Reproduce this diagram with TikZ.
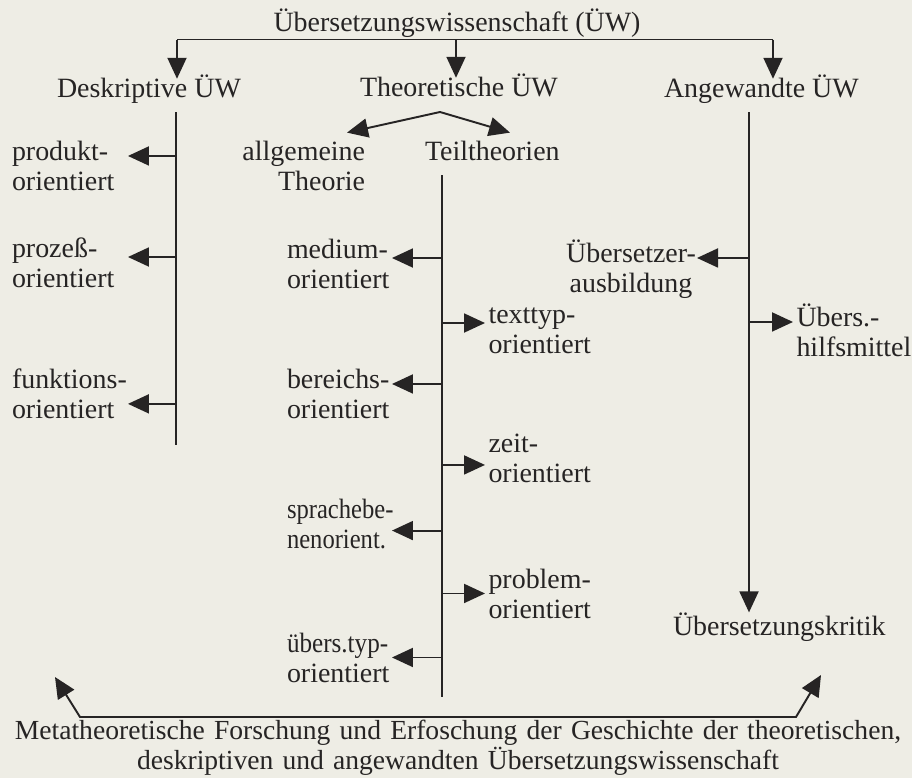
\documentclass[tikz,border=0pt]{standalone}
\usepackage{fontspec}
\setmainfont{Liberation Serif}
\usepackage{graphicx}
\usepackage{xcolor}
\usetikzlibrary{arrows.meta}
\definecolor{papier}{RGB}{238,237,229}
\definecolor{tinte}{RGB}{38,36,36}
\setlength{\lineskiplimit}{-50pt}
\newcommand{\eng}[2][0.88]{\scalebox{#1}[1]{#2}}

\begin{document}
\begin{tikzpicture}[x=0.02cm, y=-0.02cm, line width=1.1pt, color=tinte,
  >={Triangle[length=0.42cm, width=0.38cm]},
  every node/.style={inner sep=0pt, outer sep=0pt, font=\fontsize{15.9}{17.1}\selectfont},
  links/.style={anchor=base west, align=left, text width=2.32cm},
  mitte/.style={anchor=base west, align=left, text width=2.1cm},
  rechts/.style={anchor=base west, align=left, text width=2.3cm, outer xsep=2pt}]
\fill[papier] (0,0) rectangle (912,778);
\useasboundingbox (0,0) rectangle (912,778);

\node (titel) [anchor=base] at (457,31) {Übersetzungswissenschaft (ÜW)};
\node (desk) [anchor=base west] at (57,97) {Deskriptive ÜW};
\node (theo) [anchor=base west] at (360,96) {Theoretische ÜW};
\node (angew) [anchor=base west] at (664,97) {Angewandte ÜW};

\node (allg) [anchor=base east, align=right, text width=2.5cm] at (365,160) {allgemeine\\Theorie};
\node (teil) [anchor=base west] at (425,160) {Teiltheorien};

\node (prod) [links] at (12,160) {produkt-\\orientiert};
\node (proz) [links] at (12,257) {prozeß-\\orientiert};
\node (funk) [links] at (12,388) {funktions-\\orientiert};

\node (medium) [mitte] at (287,258) {medium-\\orientiert};
\node (bereich) [mitte] at (287,388) {bereichs-\\orientiert};
\node (sprache) [mitte] at (287,518) {\eng{sprachebe-}\\\eng{nenorient.}};
\node (typ) [mitte] at (287,652) {\eng[0.9]{übers.typ-}\\orientiert};

\node (texttyp) [rechts] at (485,323) {texttyp-\\orientiert};
\node (zeit) [rechts] at (485,452) {zeit-\\orientiert};
\node (problem) [rechts] at (485,588) {problem-\\orientiert};

\node (ausb) [anchor=base east, align=center, text width=2.64cm] at (697,262) {Übersetzer-\\ausbildung};
\node (hilf) [rechts] at (793,326) {Übers.-\\hilfsmittel};
\node (kritik) [anchor=base west] at (673,635) {Übersetzungskritik};

\node (meta) [anchor=base, align=center, text width=18cm, font=\fontsize{15.7}{15.3}\selectfont] at (458,739)
  {Metatheoretische Forschung und Erfoschung der Geschichte der theoretischen,\\
   deskriptiven und angewandten Übersetzungswissenschaft};

\coordinate (balkenL) at (177,39.5);
\coordinate (balkenM) at (456,39.5);
\coordinate (balkenR) at (773,39.5);
\draw (balkenL) -- (balkenR);
\draw[->, shorten >=-2.5pt] (balkenL) -- (balkenL |- desk.north);
\draw[->, shorten >=-2.5pt] (balkenM) -- (balkenM |- theo.north);
\draw[->, shorten >=-2.5pt] (balkenR) -- (balkenR |- angew.north);

\coordinate (dOben) at (176,112);
\coordinate (dUnten) at (176,445);
\draw (dOben) -- (dUnten);
\draw[->] (dOben |- prod.mid east) -- (prod.mid east);
\draw[->] (dOben |- proz.base east) -- (proz.base east);
\draw[->] ([yshift=-6pt]dOben |- funk.east) -- ([yshift=-6pt]funk.east);

\coordinate (tGabel) at (440,112);
\draw[->] (tGabel) -- ([shift={(-18,-8)}]allg.north east);
\draw[->] (tGabel) -- ([shift={(85,-8)}]teil.north west);

\coordinate (tOben) at (442,175);
\coordinate (tUnten) at (442,697);
\draw (tOben) -- (tUnten);
\draw[->] (tOben |- medium.base east) -- (medium.base east);
\draw[->] (tOben |- texttyp.base west) -- (texttyp.base west);
\draw[->] (tOben |- bereich.mid east) -- (bereich.mid east);
\draw[->] ([yshift=-4pt]tOben |- zeit.west) -- ([yshift=-4pt]zeit.west);
\draw[->] ([yshift=-4pt]tOben |- sprache.east) -- ([yshift=-4pt]sprache.east);
\draw[->] (tOben |- problem.west) -- (problem.west);
\draw[->] (tOben |- typ.east) -- (typ.east);

\coordinate (aOben) at (749,112);
\draw[->] (aOben) -- (aOben |- kritik.north);
\draw[->] (aOben |- ausb.mid east) -- (ausb.mid east);
\draw[->] (aOben |- hilf.mid west) -- (hilf.mid west);

\coordinate (metaL) at (55,677);
\coordinate (metaR) at (821,675);
\coordinate (mL) at (80,717);
\coordinate (mR) at (796,717);
\draw[<->] (metaL) -- (mL) -- (mR) -- (metaR);
\end{tikzpicture}
\end{document}
